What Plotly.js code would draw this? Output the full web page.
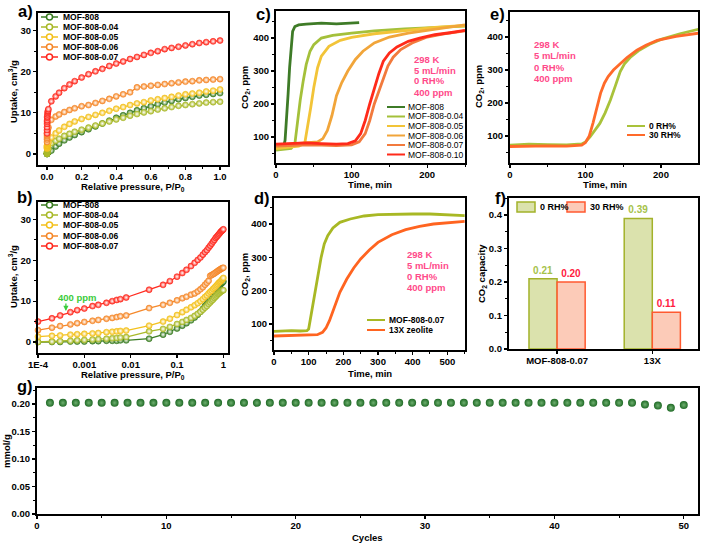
<!DOCTYPE html>
<html><head><meta charset="utf-8">
<script src="https://cdn.plot.ly/plotly-3.0.1.min.js"></script>
<style>html,body{margin:0;padding:0;background:#fff}#chart{width:701px;height:545px}</style>
</head><body><div id="chart"></div>
<script>
// ---------------- DATA ----------------
// Panels a & b: CO2 isotherms
const isoNames = ['MOF-808','MOF-808-0.04','MOF-808-0.05','MOF-808-0.06','MOF-808-0.07'];
const isoP = [0.0001,0.0002,0.0003,0.0005,0.0007,0.001,0.0015,0.002,0.003,0.004,0.005,0.006,0.008,
  0.025,0.05,0.07,0.1,0.13,0.16,0.2,
  0.24,0.28,0.32,0.36,0.4,0.44,0.48,0.52,0.56,0.6,0.64,0.68,0.72,0.76,0.8,0.84,0.88,0.92,0.96,1.0];
const isoMOF808 = [0.0,0.0,0.0,0.1,0.1,0.1,0.2,0.2,0.3,0.3,0.3,0.4,0.4,
  0.8,1.8,2.5,3.3,4.0,4.6,5.3,
  6.0,6.7,7.4,8.1,8.8,9.4,10.0,10.6,11.1,11.6,12.1,12.5,12.9,13.3,13.6,13.9,14.2,14.4,14.6,14.8];
const iso004 = [0.0,0.1,0.2,0.3,0.4,0.5,0.6,0.7,0.8,0.9,1.0,1.1,1.2,
  2.6,3.2,3.7,4.4,4.9,5.4,5.9,
  6.4,6.9,7.4,7.9,8.4,8.8,9.3,9.7,10.1,10.4,10.8,11.1,11.4,11.7,11.9,12.1,12.3,12.5,12.6,12.7];
const iso005 = [1.3,1.5,1.6,1.8,1.9,2.0,2.1,2.2,2.4,2.5,2.6,2.7,2.8,
  4.0,5.0,5.7,6.6,7.3,7.9,8.5,
  9.0,9.5,10.0,10.5,11.0,11.4,11.9,12.3,12.6,13.0,13.3,13.6,13.9,14.2,14.5,14.7,14.9,15.2,15.4,15.7];
const iso006 = [2.9,3.5,3.9,4.3,4.6,4.9,5.2,5.4,5.7,5.9,6.1,6.3,6.5,
  8.3,9.1,9.6,10.2,10.7,11.1,11.6,
  11.9,12.4,12.9,13.4,14.0,14.5,15.0,16.2,16.4,16.6,16.8,17.0,17.2,17.4,17.6,17.7,17.9,18.0,18.1,18.2];
const iso007 = [5.0,5.8,6.5,7.3,7.8,8.2,8.8,9.1,9.6,10.0,10.3,10.5,10.9,
  12.8,14.0,14.9,16.0,16.9,17.7,18.6,
  19.4,20.1,20.7,21.4,22.0,22.5,23.1,23.6,24.1,24.6,25.0,25.5,25.8,26.1,26.4,26.7,27.0,27.2,27.4,27.6];
const isoColors = ['#3b7d23','#a9b928','#f3c11c','#f5882a','#ff2a1f'];

// Panel c: breakthrough curves
const cNames = ['MOF-808','MOF-808-0.04','MOF-808-0.05','MOF-808-0.06','MOF-808-0.07','MOF-808-0.10'];
const cT808 = [0,5,10,12,14,16,18,20,22,25,30,40,60,80,100,110];
const cV808 = [62,65,70,90,150,230,310,380,420,435,440,442,445,443,445,447];
const cT004 = [0,10,20,25,28,32,36,40,45,50,60,75,100,130,170,210,250];
const cV004 = [60,62,65,80,140,211,270,320,360,380,400,408,415,422,428,432,436];
const cT005 = [0,10,20,30,38,42,46,50,55,60,70,85,100,130,170,210,250];
const cV005 = [65,68,70,72,80,130,190,250,310,345,375,393,402,413,423,432,438];
const cT006 = [0,20,40,55,62,68,74,80,87,95,105,115,130,150,175,200,225,250];
const cV006 = [75,78,82,85,95,120,165,225,265,300,335,360,385,403,415,423,432,440];
const cT007 = [0,20,40,60,80,100,110,118,124,130,136,142,148,155,165,180,200,220,250];
const cV007 = [72,75,76,75,74,76,85,110,150,200,240,280,315,342,365,385,403,412,422];
const cT010 = [0,20,40,60,80,95,105,112,118,124,130,136,142,150,160,175,190,210,230,250];
const cV010 = [78,80,82,80,78,80,88,110,150,200,250,292,330,355,373,390,400,410,416,423];
const cColors = ['#3e7b27','#a4c03a','#f2c438','#f1a53a','#f27a3d','#ff2a1a'];

// Panel d
const dNames = ['MOF-808-0.07','13X zeolite'];
const dTmof = [0,25,50,75,95,100,105,110,115,120,128,136,145,155,170,190,220,260,300,350,400,450,500,550];
const dVmof = [78,80,80,79,80,85,115,150,180,210,260,300,340,365,388,405,415,424,428,430,430,430,428,425];
const dT13x = [0,25,50,75,100,125,140,150,160,175,190,210,230,250,275,300,340,380,420,460,500,550];
const dV13x = [64,65,66,65,66,68,75,88,110,150,195,235,268,295,322,345,368,383,393,400,404,408];
const dColors = ['#a8b824','#ff6420'];

// Panel e
const eNames = ['0 RH%','30 RH%'];
const eT0 = [0,25,50,75,95,100,106,112,119,126,133,140,146,152,160,170,185,200,225,250];
const eV0 = [72,75,74,73,76,82,97,115,138,170,209,255,295,320,340,358,378,393,410,424];
const eT30 = [0,25,50,75,95,100,105,110,115,120,125,130,137,145,155,168,180,195,220,250];
const eV30 = [68,70,70,69,72,80,100,140,190,230,260,280,300,318,338,360,375,390,402,412];
const eColors = ['#a9c23a','#ff6a2a'];

// Panel f
const fCats = ['MOF-808-0.07','13X'];
const fDry = [0.21,0.39];
const fWet = [0.20,0.11];

// Panel g
const gCycles = [1,2,3,4,5,6,7,8,9,10,11,12,13,14,15,16,17,18,19,20,21,22,23,24,25,26,27,28,29,30,31,32,33,34,35,36,37,38,39,40,41,42,43,44,45,46,47,48,49,50];
const gCap = [0.202,0.202,0.202,0.202,0.202,0.202,0.202,0.202,0.202,0.202,0.202,0.202,0.202,0.202,0.202,0.202,0.202,0.202,0.202,0.202,0.202,0.202,0.202,0.202,0.202,0.202,0.202,0.202,0.202,0.202,0.202,0.202,0.202,0.202,0.202,0.202,0.202,0.202,0.202,0.202,0.202,0.202,0.202,0.202,0.202,0.202,0.199,0.197,0.193,0.198];

// ---------------- HELPERS ----------------
const W = 701, H = 545;
const px = x => x / W, py = y => 1 - y / H;
const FONT = 'Liberation Sans, Arial, sans-serif';
const PINK = '#ff4a8a';
const TF = 9.5;

function ax(o, minorDt) {
  const a = {showline:true, linecolor:'#000', linewidth:1.6, mirror:true, ticks:'outside', ticklen:3.5,
    tickwidth:1.3, tickcolor:'#000', showgrid:false, zeroline:false, automargin:false,
    tickfont:{family:FONT, size:TF, color:'#000', weight:'bold'}};
  if (minorDt !== undefined) a.minor = {ticks:'outside', ticklen:2, tickwidth:1, tickcolor:'#000', dtick:minorDt, showgrid:false};
  return Object.assign(a, o);
}
function xax(o, minorDt) { return ax(Object.assign({ticklabelstandoff:-2}, o), minorDt); }

const traces = [];
const isoY = [isoMOF808, iso004, iso005, iso006, iso007];
[['x','y'],['x2','y2']].forEach(([xa,ya]) => {
  isoY.forEach((ys, i) => traces.push({type:'scatter', mode:'lines+markers', x:isoP, y:ys, xaxis:xa, yaxis:ya,
    showlegend:false, cliponaxis:false,
    line:{color:isoColors[i], width:1.3},
    marker:{size:6, color:isoColors[i], gradient:{type:'radial', color:'#ffffff'}, line:{width:0.6, color:isoColors[i]}}}));
});
[[cT808,cV808],[cT004,cV004],[cT005,cV005],[cT006,cV006],[cT007,cV007],[cT010,cV010]].forEach(([t,v],i) =>
  traces.push({type:'scatter', mode:'lines', x:t, y:v, xaxis:'x3', yaxis:'y3', showlegend:false,
    line:{color:cColors[i], width:2.8}}));
[[dTmof,dVmof],[dT13x,dV13x]].forEach(([t,v],i) =>
  traces.push({type:'scatter', mode:'lines', x:t, y:v, xaxis:'x4', yaxis:'y4', showlegend:false,
    line:{color:dColors[i], width:2.8}}));
[[eT0,eV0],[eT30,eV30]].forEach(([t,v],i) =>
  traces.push({type:'scatter', mode:'lines', x:t, y:v, xaxis:'x5', yaxis:'y5', showlegend:false,
    line:{color:eColors[i], width:2.8}}));
traces.push({type:'bar', x:fCats, y:fDry, xaxis:'x6', yaxis:'y6', showlegend:false, cliponaxis:false,
  marker:{color:'#dbe2ad', line:{color:'#a3b22a', width:1.5}},
  texttemplate:'%{y:.2f}', textposition:'outside', textfont:{family:FONT, size:10, color:'#a6c24a', weight:'bold'}});
traces.push({type:'bar', x:fCats, y:fWet, xaxis:'x6', yaxis:'y6', showlegend:false, cliponaxis:false,
  marker:{color:'#fccbb8', line:{color:'#ff5a30', width:1.5}},
  texttemplate:'%{y:.2f}', textposition:'outside', textfont:{family:FONT, size:10, color:'#ff2040', weight:'bold'}});
traces.push({type:'scatter', mode:'markers', x:gCycles, y:gCap, xaxis:'x7', yaxis:'y7', showlegend:false,
  marker:{size:8, color:'#1f6a25', gradient:{type:'radial', color:'#6fb070'}, line:{width:0}}});

// ---------------- ANNOTATIONS / SHAPES ----------------
const ann = [], shp = [];
function txt(x, y, t, o) {
  const base = {xref:'paper', yref:'paper', x:px(x), y:py(y), text:t, showarrow:false,
    xanchor:'center', yanchor:'middle', font:{family:FONT, size:9.5, color:'#000'}};
  const f = Object.assign({}, base.font, (o && o.font) || {});
  ann.push(Object.assign(base, o || {}, {font:f}));
}
// panel letters
[['a)',25,11],['b)',25,197],['c)',263,14],['d)',262,198],['e)',498,14],['f)',500,198],['g)',25,386]]
  .forEach(([t,x,y]) => txt(x, y, '<b>'+t+'</b>', {font:{size:16.5}}));
// axis titles
txt(13, 92, '<b>Uptake, cm<sup>3</sup>/g</b>', {textangle:-90});
txt(133, 187, '<b>Relative pressure, P/P<sub>0</sub></b>');
txt(13, 277, '<b>Uptake, cm<sup>3</sup>/g</b>', {textangle:-90});
txt(133, 375, '<b>Relative pressure, P/P<sub>0</sub></b>');
txt(245, 87, '<b>CO<sub>2</sub>, ppm</b>', {textangle:-90});
txt(370, 185, '<b>Time, min</b>');
txt(245, 274, '<b>CO<sub>2</sub>, ppm</b>', {textangle:-90});
txt(370, 373, '<b>Time, min</b>');
txt(479, 87, '<b>CO<sub>2</sub>, ppm</b>', {textangle:-90});
txt(605, 185, '<b>Time, min</b>');
txt(482, 274, '<b>CO<sub>2</sub> capacity</b>', {textangle:-90});
txt(6, 451, '<b>mmol/g</b>', {textangle:-90});
txt(367, 537, '<b>Cycles</b>');
// conditions text
const cond = ['298 K','5 mL/min','0 RH%','400 ppm'];
[[412,[59,70,81,92]],[405,[254,265,276,287]],[532,[44,55.5,67,78.5]]].forEach(([x,ys]) =>
  ys.forEach((y,i) => txt(x, y, '<b>'+cond[i]+'</b>', {xanchor:'left', font:{size:9.5, color:PINK}})));
// legends a, b
[[17,27,37,47,57],[205,215,225,236,246]].forEach(ys => ys.forEach((y,i) => {
  shp.push({type:'line', xref:'paper', yref:'paper', x0:px(41), x1:px(58), y0:py(y), y1:py(y), line:{color:isoColors[i], width:1.5}});
  shp.push({type:'circle', xref:'paper', yref:'paper', x0:px(46.5), x1:px(52.5), y0:py(y+3), y1:py(y-3), fillcolor:'#fff', line:{color:isoColors[i], width:1.5}});
  txt(61, y, '<b>'+isoNames[i]+'</b>', {xanchor:'left', font:{size:8.5}});
}));
// legend c
[107,116.5,126,135.5,145,154.5].forEach((y,i) => {
  shp.push({type:'line', xref:'paper', yref:'paper', x0:px(387), x1:px(405), y0:py(y), y1:py(y), line:{color:cColors[i], width:2}});
  txt(406, y, cNames[i], {xanchor:'left', font:{size:8.5}});
});
// legend d
[320,330].forEach((y,i) => {
  shp.push({type:'line', xref:'paper', yref:'paper', x0:px(367), x1:px(385), y0:py(y), y1:py(y), line:{color:dColors[i], width:2}});
  txt(387, y, '<b>'+dNames[i]+'</b>', {xanchor:'left', font:{size:8.5}});
});
// legend e
[126,135].forEach((y,i) => {
  shp.push({type:'line', xref:'paper', yref:'paper', x0:px(627), x1:px(645), y0:py(y), y1:py(y), line:{color:eColors[i], width:2}});
  txt(647, y, '<b>'+eNames[i]+'</b>', {xanchor:'left', font:{size:8.5}});
});
// legend f
shp.push({type:'rect', xref:'paper', yref:'paper', x0:px(517), x1:px(535), y0:py(212), y1:py(202), fillcolor:'#dbe2ad', line:{color:'#a3b22a', width:1.5}});
shp.push({type:'rect', xref:'paper', yref:'paper', x0:px(567), x1:px(585), y0:py(212), y1:py(202), fillcolor:'#fccbb8', line:{color:'#ff5a30', width:1.5}});
txt(538, 207, '<b>0 RH%</b>', {xanchor:'left', font:{size:9}});
txt(588, 207, '<b>30 RH%</b>', {xanchor:'left', font:{size:9}});
// 400 ppm marker in b
const lg400 = Math.log10(0.0004);
shp.push({type:'line', xref:'x2', yref:'y2', x0:lg400, x1:lg400, y0:-2.7, y1:7.6, line:{color:'#3ccc3c', width:1.5}});
ann.push({xref:'x2', yref:'y2', x:lg400, y:7.6, ax:0, ay:-9, text:'', showarrow:true, arrowhead:2, arrowsize:0.8, arrowwidth:1.3, arrowcolor:'#3ccc3c'});
txt(77, 297, '<b>400 ppm</b>', {font:{size:9.5, color:'#3ccc3c'}});

// ---------------- LAYOUT ----------------
const layout = {
  width:W, height:H, margin:{l:0,r:0,t:0,b:0}, paper_bgcolor:'#fff', plot_bgcolor:'rgba(0,0,0,0)',
  showlegend:false, barmode:'group', bargap:0.41, bargroupgap:0,
  font:{family:FONT, color:'#000'},
  xaxis: xax({domain:[px(38),px(228)], range:[-0.052,1.046], anchor:'y', dtick:0.2, tick0:0, tickformat:'.1f'}, 0.1),
  yaxis: ax({domain:[py(165),py(13)], range:[-2.7,34.3], anchor:'x', dtick:10, tick0:0}, 5),
  xaxis2: xax({type:'log', domain:[px(38),px(228)], range:[-4,0.1], anchor:'y2',
    tickvals:[1e-4,1e-3,1e-2,0.1,1], ticktext:['1E-4','0.001','0.01','0.1','1']}),
  yaxis2: ax({domain:[py(353),py(202)], range:[-2.7,34.3], anchor:'x2', dtick:10, tick0:0}, 5),
  xaxis3: xax({domain:[px(276),px(465)], range:[0,250], anchor:'y3', dtick:100, tick0:0}, 50),
  yaxis3: ax({domain:[py(163),py(11)], range:[21,482], anchor:'x3', dtick:100, tick0:0}, 50),
  xaxis4: xax({domain:[px(274),px(465)], range:[0,551], anchor:'y4', dtick:100, tick0:0}, 50),
  yaxis4: ax({domain:[py(350),py(198)], range:[22,478], anchor:'x4', dtick:100, tick0:0}, 50),
  xaxis5: xax({domain:[px(510),px(698)], range:[0,249], anchor:'y5', dtick:100, tick0:0}, 50),
  yaxis5: ax({domain:[py(163),py(12)], range:[18,476], anchor:'x5', dtick:100, tick0:0}, 50),
  xaxis6: xax({domain:[px(509),px(698)], type:'category', range:[-0.505,1.48], anchor:'y6'}),
  yaxis6: ax({domain:[py(349),py(198)], range:[0,0.451], anchor:'x6', dtick:0.1, tick0:0, tickformat:'.1f'}, 0.05),
  xaxis7: xax({domain:[px(37),px(698)], range:[0,51.1], anchor:'y7', dtick:10, tick0:0}, 5),
  yaxis7: ax({domain:[py(514),py(388)], range:[0,0.229], anchor:'x7', dtick:0.05, tick0:0, tickformat:'.2f'}, 0.025),
  annotations: ann, shapes: shp
};
Plotly.newPlot('chart', traces, layout, {displayModeBar:false, staticPlot:true});
</script>
</body></html>
